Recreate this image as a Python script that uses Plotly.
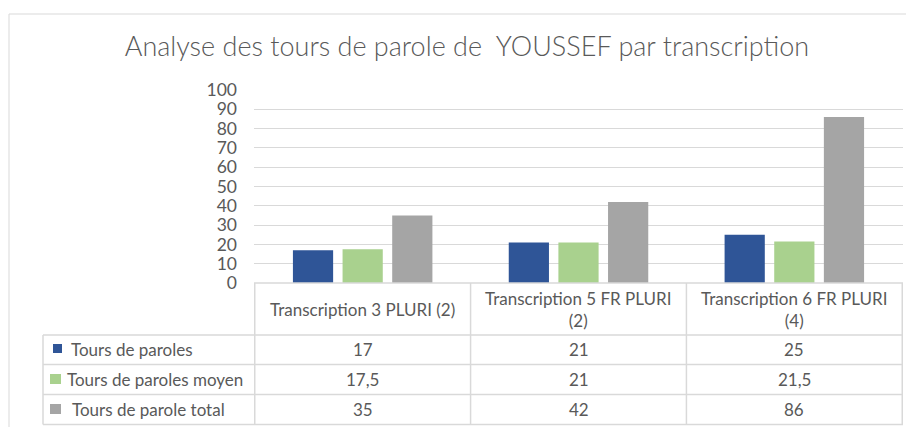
import plotly.graph_objects as go

categories = ["Transcription 3 PLURI (2)", "Transcription 5 FR PLURI (2)", "Transcription 6 FR PLURI (4)"]
header_labels = ["Transcription 3 PLURI (2)", "Transcription 5 FR PLURI<br>(2)", "Transcription 6 FR PLURI<br>(4)"]
series_names = ["Tours de paroles", "Tours de paroles moyen", "Tours de parole total"]
tours = [17, 21, 25]
tours_moyen = [17.5, 21, 21.5]
tours_total = [35, 42, 86]
value_labels = [["17", "21", "25"], ["17,5", "21", "21,5"], ["35", "42", "86"]]
colors = ["#2F5597", "#A9D18E", "#A5A5A5"]
y_ticks = list(range(0, 101, 10))

OFF = 8  # page body margin
W, H = 914 - OFF, 427 - OFF
L, R, T, B = 254 - OFF, 903 - OFF, 90 - OFF, 283 - OFF  # plot area in figure pixels

def px(x):
    return (x - OFF - L) / (R - L)

def py(y):
    return (B - (y - OFF)) / (B - T)

FONT = "Lato"
TXT = "#595959"
LINE = "#D9D9D9"
FS = 17

fig = go.Figure()
for name, vals, col in zip(series_names, [tours, tours_moyen, tours_total], colors):
    fig.add_trace(go.Bar(x=categories, y=vals, name=name, marker=dict(color=col, line=dict(width=0)),
                         showlegend=False, hoverinfo="x+y"))

shapes = []
annotations = []

# outer chart border
shapes.append(dict(type="rect", xref="paper", yref="paper", x0=px(9), x1=px(913), y0=py(440), y1=py(14),
                   line=dict(color="#D9D9D9", width=1), layer="below"))

# table horizontal lines
row_lines = [335, 364.5, 394.5, 424.5]
shapes.append(dict(type="line", xref="paper", yref="paper", x0=px(254), x1=px(903), y0=py(283), y1=py(283),
                   line=dict(color=LINE, width=1.5)))
for yl in row_lines:
    shapes.append(dict(type="line", xref="paper", yref="paper", x0=px(43), x1=px(903), y0=py(yl), y1=py(yl),
                       line=dict(color=LINE, width=1.5)))
# table vertical lines
shapes.append(dict(type="line", xref="paper", yref="paper", x0=px(43), x1=px(43), y0=py(335), y1=py(424.5),
                   line=dict(color=LINE, width=1.5)))
for i in range(len(categories) + 1):
    shapes.append(dict(type="line", xref="x", yref="paper", x0=i - 0.5, x1=i - 0.5, y0=py(283), y1=py(424.5),
                       line=dict(color=LINE, width=1.5)))

# header
for i, lab in enumerate(header_labels):
    annotations.append(dict(x=categories[i], y=py(309), xref="x", yref="paper", text=lab, showarrow=False,
                            xanchor="center", yanchor="middle", font=dict(family=FONT, size=FS, color=TXT)))

# rows
row_centers = [349.5, 379.5, 409.5]
key_x = [(53, 62), (50, 61), (50, 61)]
key_y = [(344, 353), (374, 384), (404, 414)]
text_x = [69, 65, 70]
for r in range(3):
    shapes.append(dict(type="rect", xref="paper", yref="paper", x0=px(key_x[r][0]), x1=px(key_x[r][1]),
                       y0=py(key_y[r][1]), y1=py(key_y[r][0]), fillcolor=colors[r], line=dict(width=0)))
    annotations.append(dict(x=px(text_x[r]), y=py(row_centers[r]), xref="paper", yref="paper",
                            text=series_names[r], showarrow=False, xanchor="left", yanchor="middle",
                            font=dict(family=FONT, size=FS, color=TXT)))
    for i in range(3):
        annotations.append(dict(x=categories[i], y=py(row_centers[r]), xref="x", yref="paper",
                                text=value_labels[r][i], showarrow=False, xanchor="center", yanchor="middle",
                                font=dict(family=FONT, size=FS, color=TXT)))

fig.update_layout(
    width=W, height=H,
    margin=dict(l=L, r=W - R, t=T, b=H - B, pad=0),
    paper_bgcolor="white", plot_bgcolor="white",
    barmode="group", bargap=0.31, bargroupgap=0.19,
    title=dict(text="Analyse des tours de parole de \u00a0YOUSSEF par transcription",
               xref="container", x=(467 - OFF) / W, xanchor="center",
               yref="container", y=1 - (47 - OFF) / H, yanchor="middle",
               font=dict(family=FONT, size=27, weight=300, color="#595959")),
    xaxis=dict(showticklabels=False, showgrid=False, zeroline=False, showline=False, ticks=""),
    yaxis=dict(range=[0, 100], tickvals=y_ticks, showgrid=True, gridcolor="#D9D9D9", gridwidth=1,
               zeroline=False, showline=False, ticks="", ticklabelstandoff=16,
               tickfont=dict(family=FONT, size=17.5, color="#595959")),
    shapes=shapes, annotations=annotations,
)

fig.write_html("out.html")
